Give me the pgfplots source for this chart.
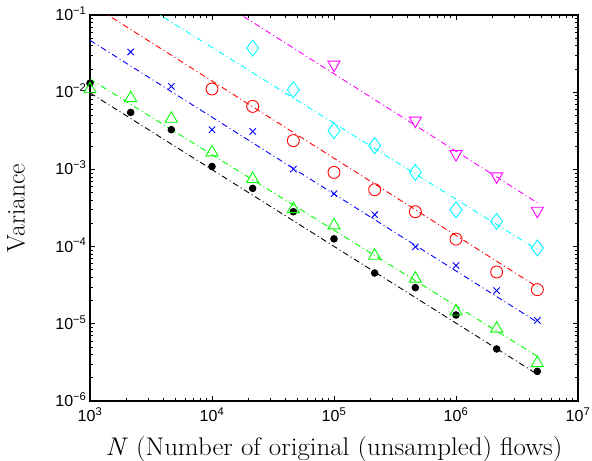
\documentclass[border=0pt]{standalone}
\usepackage{fontspec}
\usepackage{graphicx}
\usepackage{pgfplots}
\pgfplotsset{compat=1.18}
\newfontfamily\hv{Liberation Sans}
\newcommand{\tl}[1]{{\hv 10\textsuperscript{#1}}}
\newcommand{\tly}[1]{{\hv 10\smash{\textsuperscript{#1}}}}
\newcommand{\mi}{\char"2212\relax}
\definecolor{mgreen}{rgb}{0,1,0}
\definecolor{mblue}{rgb}{0,0,1}
\definecolor{mred}{rgb}{1,0,0}
\definecolor{mcyan}{rgb}{0,1,1}
\definecolor{mmag}{rgb}{1,0,1}
\begin{document}
\begin{tikzpicture}
\begin{loglogaxis}[
  scale only axis, width=488pt, height=386pt,
  xmin=1e3, xmax=1e7, ymin=1e-6, ymax=1e-1,
  xtick={1e3,1e4,1e5,1e6,1e7},
  xticklabels={\tl{3},\tl{4},\tl{5},\tl{6},\tl{7}},
  ytick={1e-6,1e-5,1e-4,1e-3,1e-2,1e-1},
  yticklabels={\tly{\mi6},\tly{\mi5},\tly{\mi4},\tly{\mi3},\tly{\mi2},\tly{\mi1}},
  minor xtick={2e3,3e3,4e3,5e3,6e3,7e3,8e3,9e3,2e4,3e4,4e4,5e4,6e4,7e4,8e4,9e4,2e5,3e5,4e5,5e5,6e5,7e5,8e5,9e5,2e6,3e6,4e6,5e6,6e6,7e6,8e6,9e6},
  minor ytick={2e-6,3e-6,4e-6,5e-6,6e-6,7e-6,8e-6,9e-6,2e-5,3e-5,4e-5,5e-5,6e-5,7e-5,8e-5,9e-5,2e-4,3e-4,4e-4,5e-4,6e-4,7e-4,8e-4,9e-4,2e-3,3e-3,4e-3,5e-3,6e-3,7e-3,8e-3,9e-3,2e-2,3e-2,4e-2,5e-2,6e-2,7e-2,8e-2,9e-2},
  tick label style={font=\fontsize{16}{19}\selectfont},
  xticklabel style={yshift=-3pt},
  label style={font=\fontsize{25.5}{30}\selectfont},
  xlabel={\scalebox{1.055}[1]{\textit{N} (Number of original (unsampled) flows)}},
  ylabel={Variance},
  xlabel style={at={(axis description cs:0.5,0)}, anchor=base, yshift=-54pt},
  ylabel style={at={(axis description cs:-0.1516,0.5)}, anchor=center},
  axis line style={line width=1.1pt},
  major tick length=5pt, minor tick length=3pt,
  every tick/.style={black, line width=0.7pt},
  ddot/.style={line width=0.9pt, dash pattern=on 6pt off 3pt on 1pt off 3pt},
  mk/.style={only marks, line width=0.9pt, mark options={solid}},
]
% black dots
\addplot[black, mk, mark=*, mark size=3.3pt] coordinates {
(1000,0.0131)(2154,5.47e-3)(4642,3.27e-3)(10000,1.09e-3)(21544,5.68e-4)(46416,2.83e-4)
(100000,1.26e-4)(215443,4.55e-5)(464159,2.94e-5)(1000000,1.30e-5)(2154435,4.72e-6)(4641589,2.42e-6)};
\addplot[black, ddot] coordinates {(1000,0.0098)(4641589,2.22e-6)};
% green triangles
\addplot[mgreen, mk, mark=triangle, mark size=7pt, mark options={solid, yshift=-1.7pt}] coordinates {
(1000,0.0115)(2154,8.8e-3)(4642,4.77e-3)(10000,1.75e-3)(21544,7.9e-4)(46416,3.22e-4)
(100000,1.98e-4)(215443,8.0e-5)(464159,4.04e-5)(1000000,1.52e-5)(2154435,9.1e-6)(4641589,3.26e-6)};
\addplot[mgreen, ddot] coordinates {(1000,0.0148)(4641589,3.8e-6)};
% blue crosses
\addplot[mblue, mk, mark=x, mark size=4.5pt] coordinates {
(2154,0.0332)(4642,0.0119)(10000,3.27e-3)(21544,3.1e-3)(46416,1.01e-3)
(100000,4.84e-4)(215443,2.59e-4)(464159,9.9e-5)(1000000,5.7e-5)(2154435,2.69e-5)(4641589,1.11e-5)};
\addplot[mblue, ddot] coordinates {(1000,0.047)(4641589,1.05e-5)};
% red circles
\addplot[mred, mk, mark=o, mark size=6pt] coordinates {
(10000,0.011)(21544,6.55e-3)(46416,2.36e-3)
(100000,9.15e-4)(215443,5.46e-4)(464159,2.83e-4)(1000000,1.25e-4)(2154435,4.69e-5)(4641589,2.77e-5)};
\addplot[mred, ddot] coordinates {(1000,0.14)(4641589,3.0e-5)};
% cyan diamonds
\addplot[mcyan, mk, mark=diamond, mark size=8pt] coordinates {
(21544,0.0373)(46416,0.01077)
(100000,3.17e-3)(215443,2.03e-3)(464159,9.15e-4)(1000000,3.0e-4)(2154435,2.12e-4)(4641589,9.6e-5)};
\addplot[mcyan, ddot] coordinates {(2154,0.172)(4641589,9.1e-5)};
% magenta down triangles
\addplot[mmag, mk, mark=triangle, mark size=7pt, mark options={solid, yshift=1.7pt, rotate=180}] coordinates {
(100000,0.0216)(464159,4.07e-3)(1000000,1.5e-3)(2154435,7.73e-4)(4641589,2.77e-4)};
\addplot[mmag, ddot] coordinates {(12000,0.145)(4641589,3.69e-4)};
\end{loglogaxis}
\pgfresetboundingbox
\path (current axis.south west) ++(-90pt,-60pt) rectangle ([shift={(14pt,15pt)}]current axis.north east);
\end{tikzpicture}
\end{document}
